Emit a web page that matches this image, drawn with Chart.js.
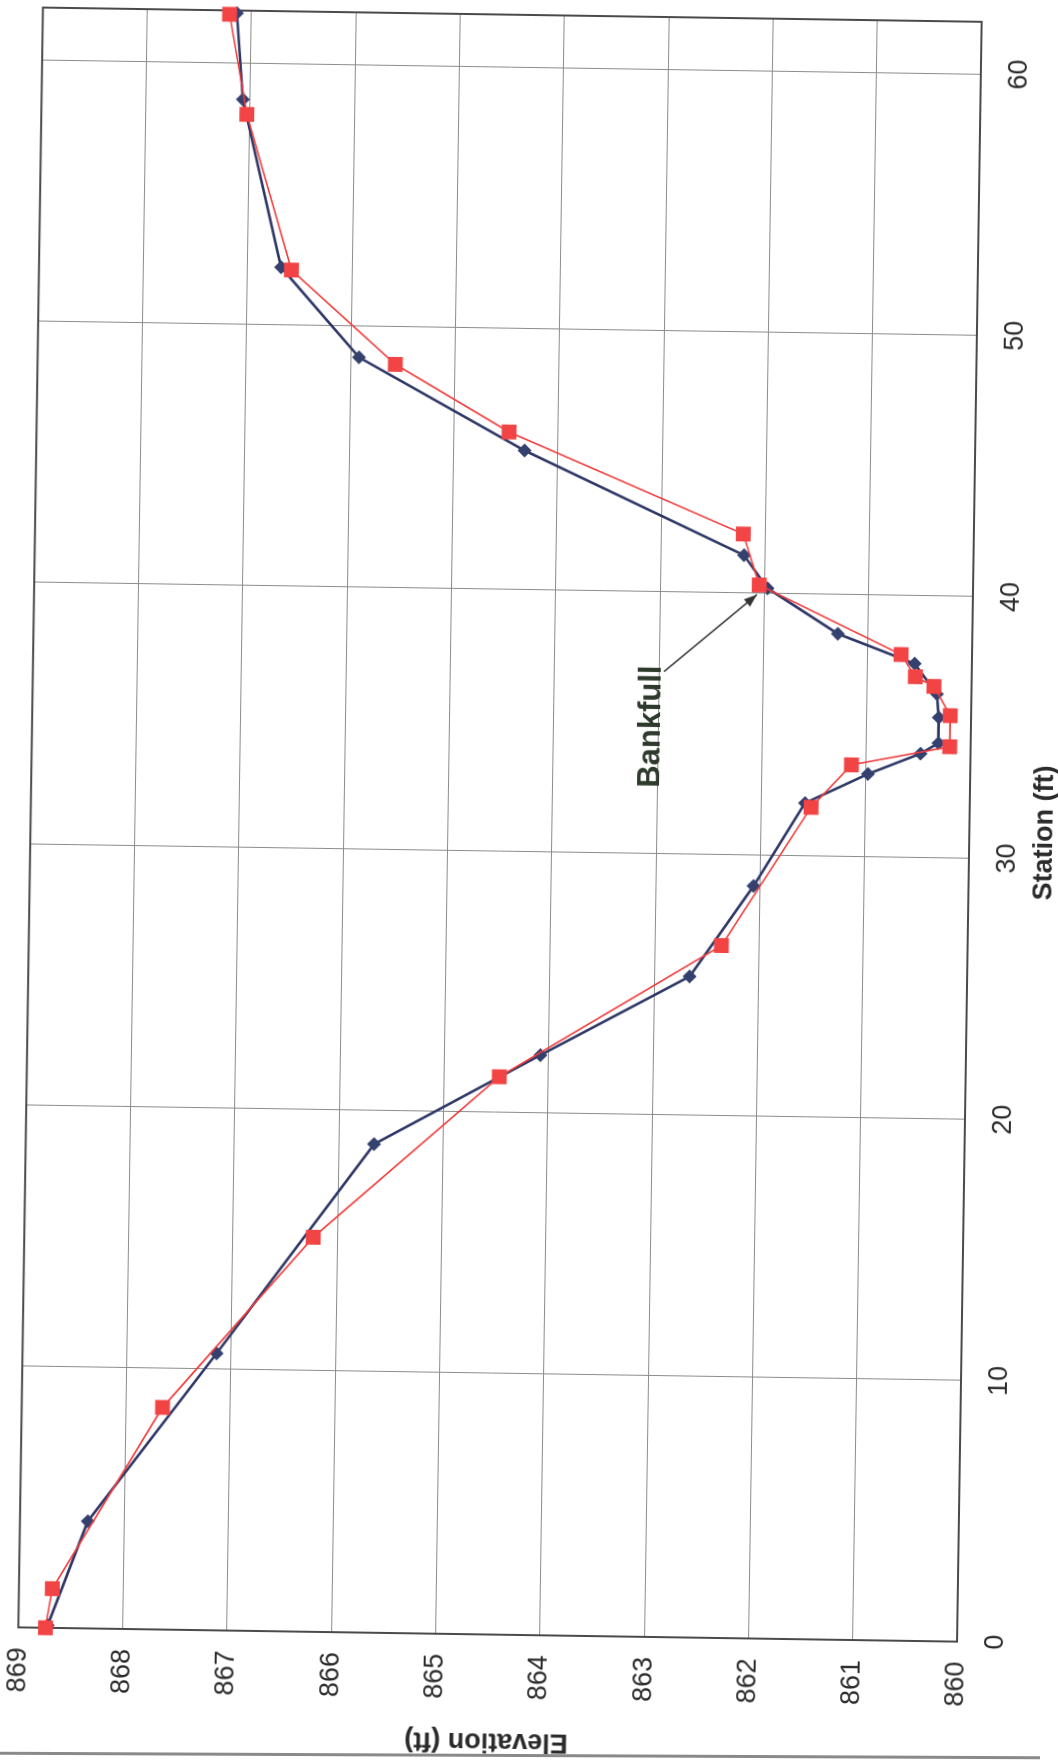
<!DOCTYPE html>
<html lang="en">
<head>
  <meta charset="UTF-8">
  <title>Cross Section - Station vs Elevation</title>
  <script src="https://cdn.jsdelivr.net/npm/chart.js"></script>
  <style>
    html, body { margin: 0; padding: 0; background: #fff; width: 1058px; height: 1761px; overflow: hidden; }
    #wrap { position: absolute; width: 1800px; height: 1080px; }
    #edge { position: absolute; left: 0; top: 1754px; width: 1040px; height: 3px; background: #8a8a8a; transform: rotate(0.25deg); }
  </style>
</head>
<body>
  <div id="wrap"><canvas id="chart" width="1800" height="1080" style="width:1800px;height:1080px"></canvas></div>
  <div id="edge"></div>

  <script>
    // survey 1 (navy diamonds)
    const stationBlue = [0.1, 4.1, 10.6, 18.7, 22.2, 25.3, 28.8, 32.0, 33.15, 33.96, 34.37, 35.35, 36.25, 37.4, 38.5, 40.2, 41.45, 45.33, 48.8, 52.2, 58.6, 61.9];
    const elevBlue = [868.72, 868.35, 867.14, 865.66, 864.08, 862.66, 862.06, 861.58, 860.98, 860.48, 860.31, 860.31, 860.33, 860.55, 861.29, 861.97, 862.2, 864.32, 865.92, 866.68, 867.07, 867.14];

    // survey 2 (red squares)
    const stationRed = [0, 1.5, 8.5, 15.1, 21.35, 26.5, 31.84, 33.49, 34.24, 35.43, 36.54, 36.9, 37.74, 40.32, 42.26, 46.03, 48.55, 52.1, 58.03, 61.85];
    const elevRed = [868.74, 868.68, 867.65, 866.23, 864.47, 862.36, 861.52, 861.14, 860.2, 860.2, 860.36, 860.54, 860.68, 862.05, 862.21, 864.47, 865.57, 866.58, 867.03, 867.21];

    const stationTicks = [0, 10, 20, 30, 40, 50, 60];
    const elevTicks = [860, 861, 862, 863, 864, 865, 866, 867, 868, 869];

    // bankfull callout: arrow tip, arrow tail, label start
    const bankfullPoint = { x: 39.95, y: 862.07 };
    const bankfullTail = { x: 36.95, y: 862.95 };
    const bankfullLabel = { x: 32.5, y: 862.98, text: 'Bankfull' };

    const FONT = '"Liberation Sans", Arial, sans-serif';
    const TEXT = '#2b2b2b';

    // wanted plot size (px) and where its centre sits on the page
    const PLOT_W = 1620, PLOT_H = 939;
    const PAGE_CX = 500, PAGE_CY = 825;

    const frameBox = {
      id: 'frameBox',
      beforeDatasetsDraw(chart) {
        const a = chart.chartArea, ctx = chart.ctx;
        ctx.save();
        ctx.strokeStyle = '#4a4a4a';
        ctx.lineWidth = 2;
        ctx.strokeRect(a.left, a.top, a.right - a.left, a.bottom - a.top);
        ctx.restore();
      }
    };

    const bankfullNote = {
      id: 'bankfullNote',
      afterDatasetsDraw(chart) {
        const xs = chart.scales.x, ys = chart.scales.y, ctx = chart.ctx;
        const tx = xs.getPixelForValue(bankfullPoint.x), ty = ys.getPixelForValue(bankfullPoint.y);
        const sx = xs.getPixelForValue(bankfullTail.x), sy = ys.getPixelForValue(bankfullTail.y);
        ctx.save();
        ctx.strokeStyle = '#333';
        ctx.fillStyle = '#333';
        ctx.lineWidth = 1.5;
        ctx.beginPath();
        ctx.moveTo(sx, sy);
        ctx.lineTo(tx, ty);
        ctx.stroke();
        const ang = Math.atan2(ty - sy, tx - sx);
        ctx.beginPath();
        ctx.moveTo(tx, ty);
        ctx.lineTo(tx - 14 * Math.cos(ang - 0.35), ty - 14 * Math.sin(ang - 0.35));
        ctx.lineTo(tx - 14 * Math.cos(ang + 0.35), ty - 14 * Math.sin(ang + 0.35));
        ctx.closePath();
        ctx.fill();
        ctx.fillStyle = '#2e3a2c';
        ctx.font = 'bold 31px ' + FONT;
        ctx.textAlign = 'left';
        ctx.textBaseline = 'alphabetic';
        ctx.fillText(bankfullLabel.text, xs.getPixelForValue(bankfullLabel.x), ys.getPixelForValue(bankfullLabel.y));
        ctx.restore();
      }
    };

    const ctx = document.getElementById('chart').getContext('2d');
    const chart = new Chart(ctx, {
      type: 'scatter',
      data: {
        datasets: [
          {
            label: 'Survey 2',
            data: stationRed.map((s, i) => ({ x: s, y: elevRed[i] })),
            showLine: true,
            borderColor: '#f23b3b',
            borderWidth: 1.6,
            pointStyle: 'rect',
            pointRadius: 10.5,
            pointBackgroundColor: '#f24444',
            pointBorderColor: '#f24444',
            pointBorderWidth: 0,
            clip: false
          },
          {
            label: 'Survey 1',
            data: stationBlue.map((s, i) => ({ x: s, y: elevBlue[i] })),
            showLine: true,
            borderColor: '#2e3766',
            borderWidth: 2.6,
            pointStyle: 'rectRot',
            pointRadius: 7,
            pointBackgroundColor: '#34406e',
            pointBorderColor: '#34406e',
            pointBorderWidth: 0,
            clip: false
          }
        ]
      },
      options: {
        responsive: false,
        maintainAspectRatio: false,
        animation: false,
        events: [],
        layout: { padding: { left: 10, right: 30, top: 20, bottom: 11 } },
        plugins: { legend: { display: false }, tooltip: { enabled: false } },
        scales: {
          x: {
            type: 'linear', position: 'bottom', min: 0, max: 62,
            afterFit: s => { s.height = 110; },
            afterBuildTicks: s => { s.ticks = stationTicks.map(v => ({ value: v })); },
            grid: { color: '#8c8c8c', lineWidth: 1, drawTicks: false },
            border: { display: false },
            ticks: { padding: 22, color: TEXT, maxRotation: 0, font: { family: FONT, size: 27 } },
            title: { display: true, text: 'Station (ft)', color: TEXT, font: { family: FONT, size: 27, weight: 'bold' }, padding: { top: 0, bottom: 18 } }
          },
          y: {
            type: 'linear', position: 'left', min: 860, max: 869,
            afterFit: s => { s.width = 140; },
            afterBuildTicks: s => { s.ticks = elevTicks.map(v => ({ value: v })); },
            grid: { color: '#8c8c8c', lineWidth: 1, drawTicks: false },
            border: { display: false },
            ticks: { padding: 20, color: TEXT, font: { family: FONT, size: 27 } },
            title: { display: true, text: 'Elevation (ft)', color: TEXT, font: { family: FONT, size: 27, weight: 'bold' }, padding: { top: 17, bottom: 0 } }
          }
        }
      },
      plugins: [frameBox, bankfullNote]
    });

    // grow the canvas so the plot area gets the wanted size
    let a = chart.chartArea;
    const dw = Math.round(PLOT_W - (a.right - a.left));
    const dh = Math.round(PLOT_H - (a.bottom - a.top));
    const wrap = document.getElementById('wrap');
    if (dw || dh) {
      const w = 1800 + dw, h = 1080 + dh;
      wrap.style.width = w + 'px';
      wrap.style.height = h + 'px';
      chart.resize(w, h);
      a = chart.chartArea;
    }

    // the picture is the chart turned on its side, slightly skewed by the scan
    const cx = (a.left + a.right) / 2, cy = (a.top + a.bottom) / 2;
    wrap.style.left = (PAGE_CX - cx) + 'px';
    wrap.style.top = (PAGE_CY - cy) + 'px';
    wrap.style.transformOrigin = cx + 'px ' + cy + 'px';
    wrap.style.transform = 'rotate(-89.13deg)';
  </script>
</body>
</html>
